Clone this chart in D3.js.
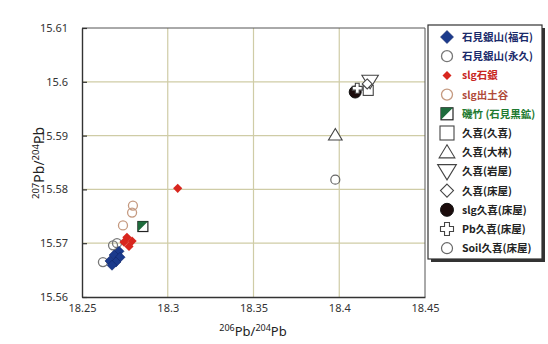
<!DOCTYPE html>
<html><head><meta charset="utf-8">
<script src="https://cdn.jsdelivr.net/npm/d3@7"></script>
<style>
html,body{margin:0;padding:0;background:#fff;}
svg{display:block;}
</style></head>
<body>
<svg id="c" width="548" height="344"></svg>
<script>
// ---- data ----
const xTicks = [18.25, 18.3, 18.35, 18.4, 18.45];
const yTicks = [15.56, 15.57, 15.58, 15.59, 15.6, 15.61];
const seriesNames = ["石見銀山(福石)","石見銀山(永久)","slg石銀","slg出土谷","磯竹 (石見黒鉱)","久喜(久喜)","久喜(大林)","久喜(岩屋)","久喜(床屋)","slg久喜(床屋)","Pb久喜(床屋)","Soil久喜(床屋)"];
const fukuishi = [[18.2716,15.5685],[18.2687,15.5678],[18.2722,15.5674],[18.2663,15.5667],[18.2698,15.5665],[18.2675,15.5659]];
const eikyu = [[18.2622,15.5665],[18.2681,15.5696],[18.2704,15.5700]];
const slgIshigin = [[18.3058,15.5802],[18.2762,15.5711],[18.2792,15.5704],[18.2745,15.5702],[18.2774,15.5694]];
const slgDodani = [[18.2797,15.5770],[18.2792,15.5757],[18.2739,15.5733]];
const isotake = [[18.2855,15.5731]];
const kukiKuki = [[18.4169,15.5984]];
const kukiObayashi = [[18.3977,15.5901]];
const kukiIwaya = [[18.4180,15.6001]];
const kukiTokoya = [[18.4163,15.5996]];
const slgKukiTokoya = [[18.4093,15.5981]];
const pbKukiTokoya = [[18.4105,15.5988]];
const soilKukiTokoya = [[18.3977,15.5818]];

// ---- layout ----
const svg = d3.select("#c");
const L = 82, R = 425, T = 28, B = 297;
const x = d3.scaleLinear().domain([18.25, 18.45]).range([L, R]);
const y = d3.scaleLinear().domain([15.56, 15.61]).range([B, T]);
const gridC = "#cfcca6";

// grid
svg.append("g").selectAll("line").data(xTicks.slice(1, -1)).join("line")
  .attr("x1", d => x(d)).attr("x2", d => x(d)).attr("y1", T).attr("y2", B)
  .attr("stroke", gridC).attr("stroke-width", 1.2);
svg.append("g").selectAll("line").data(yTicks.slice(1, -1)).join("line")
  .attr("y1", d => y(d)).attr("y2", d => y(d)).attr("x1", L).attr("x2", R)
  .attr("stroke", gridC).attr("stroke-width", 1.2);

// frame
svg.append("line").attr("x1", L).attr("x2", R).attr("y1", T).attr("y2", T).attr("stroke", "#555").attr("stroke-width", 1);
svg.append("line").attr("x1", R).attr("x2", R).attr("y1", T).attr("y2", B).attr("stroke", "#555").attr("stroke-width", 1);

const tickFont = "'Noto Sans', 'Open Sans', sans-serif";
const xa = svg.append("g").attr("transform", `translate(0,${B})`)
  .call(d3.axisBottom(x).tickValues(xTicks).tickFormat(d => d3.format("")(+d.toFixed(2))).tickSize(0).tickPadding(7));
const ya = svg.append("g").attr("transform", `translate(${L},0)`)
  .call(d3.axisLeft(y).tickValues(yTicks).tickFormat(d => d3.format("")(+d.toFixed(2))).tickSizeInner(-5).tickSizeOuter(0).tickPadding(14));
[xa, ya].forEach(a => {
  a.select(".domain").attr("stroke", "#333").attr("stroke-width", 1.4);
  a.selectAll(".tick line").attr("stroke", "#333").attr("stroke-width", 1.2);
  a.selectAll("text").attr("font-family", tickFont).attr("font-size", 11).attr("fill", "#333");
});

// axis titles
const xt = svg.append("text").attr("x", 253).attr("y", 336).attr("text-anchor", "middle")
  .attr("font-family", tickFont).attr("font-size", 13).attr("fill", "#222");
xt.append("tspan").attr("font-size", 9).attr("dy", -5).text("206");
xt.append("tspan").attr("dy", 5).text("Pb/");
xt.append("tspan").attr("font-size", 9).attr("dy", -5).text("204");
xt.append("tspan").attr("dy", 5).text("Pb");
const yt = svg.append("text").attr("transform", "translate(44,163) rotate(-90)").attr("text-anchor", "middle")
  .attr("font-family", tickFont).attr("font-size", 14).attr("fill", "#222");
yt.append("tspan").attr("font-size", 9.5).attr("dy", -5).text("207");
yt.append("tspan").attr("dy", 5).text("Pb/");
yt.append("tspan").attr("font-size", 9.5).attr("dy", -5).text("204");
yt.append("tspan").attr("dy", 5).text("Pb");

// symbol drawers
function drawSym(g, type, s) {
  switch (type) {
    case "diamondFill":
      g.append("path").attr("d", `M0,${-s}L${s},0L0,${s}L${-s},0Z`).attr("fill", "#1b3a8c").attr("stroke", "#10266a").attr("stroke-width", 0.6); break;
    case "circleGray":
      g.append("circle").attr("r", s).attr("fill", "none").attr("stroke", "#777").attr("stroke-width", 1.3); break;
    case "diamondRed":
      g.append("path").attr("d", `M0,${-s}L${s},0L0,${s}L${-s},0Z`).attr("fill", "#d8261e"); break;
    case "circleTan":
      g.append("circle").attr("r", s).attr("fill", "none").attr("stroke", "#c59a80").attr("stroke-width", 1.3); break;
    case "halfSquare":
      g.append("rect").attr("x", -s).attr("y", -s).attr("width", 2*s).attr("height", 2*s).attr("fill", "#fff").attr("stroke", "#222").attr("stroke-width", 1.2);
      g.append("path").attr("d", `M${-s},${-s}L${s},${-s}L${-s},${s}Z`).attr("fill", "#1e6b3c"); break;
    case "square":
      g.append("rect").attr("x", -s).attr("y", -s).attr("width", 2*s).attr("height", 2*s).attr("fill", "#fff").attr("stroke", "#444").attr("stroke-width", 1.1); break;
    case "triUp":
      g.append("path").attr("d", `M0,${-s}L${s*1.05},${s*0.75}L${-s*1.05},${s*0.75}Z`).attr("fill", "#fff").attr("stroke", "#444").attr("stroke-width", 1.1); break;
    case "triDown":
      g.append("path").attr("d", `M0,${s}L${s*1.1},${-s*0.8}L${-s*1.1},${-s*0.8}Z`).attr("fill", "#fff").attr("stroke", "#444").attr("stroke-width", 1.1); break;
    case "diamondOpen":
      g.append("path").attr("d", `M0,${-s}L${s},0L0,${s}L${-s},0Z`).attr("fill", "#fff").attr("stroke", "#444").attr("stroke-width", 1.1); break;
    case "circleBlack":
      g.append("circle").attr("r", s).attr("fill", "#1c0c0c").attr("stroke", "#111"); break;
    case "plus": {
      const a = s * 0.38;
      g.append("path").attr("d", `M${-a},${-s}H${a}V${-a}H${s}V${a}H${a}V${s}H${-a}V${a}H${-s}V${-a}H${-a}Z`).attr("fill", "#fff").attr("stroke", "#444").attr("stroke-width", 1.1); break;
    }
    case "circleSoil":
      g.append("circle").attr("r", s).attr("fill", "none").attr("stroke", "#666").attr("stroke-width", 1.2); break;
  }
}

const plotSeries = [
  {data: soilKukiTokoya, type: "circleSoil", s: 4.5},
  {data: kukiObayashi, type: "triUp", s: 6.5},
  {data: kukiKuki, type: "square", s: 5},
  {data: kukiIwaya, type: "triDown", s: 7.5},
  {data: kukiTokoya, type: "diamondOpen", s: 5},
  {data: slgKukiTokoya, type: "circleBlack", s: 6},
  {data: pbKukiTokoya, type: "plus", s: 5},
  {data: slgDodani, type: "circleTan", s: 4.5},
  {data: isotake, type: "halfSquare", s: 5},
  {data: eikyu, type: "circleGray", s: 4.5},
  {data: slgIshigin, type: "diamondRed", s: 4.6},
  {data: fukuishi, type: "diamondFill", s: 5}
];
plotSeries.forEach(ps => {
  ps.data.forEach(d => {
    const g = svg.append("g").attr("transform", `translate(${x(d[0])},${y(d[1])})`);
    drawSym(g, ps.type, ps.s);
  });
});

// legend
const legTypes = ["diamondFill","circleGray","diamondRed","circleTan","halfSquare","square","triUp","triDown","diamondOpen","circleBlack","plus","circleSoil"];
const legSizes = [6.5,5.5,4.5,5.5,6,7,7.5,8.5,6.5,6.5,6.5,5.5];
const legColors = ["#1a2a6a","#1a2a6a","#c8261e","#b04a3a","#1e7a30","#222","#222","#222","#222","#222","#222","#222"];
const lg = svg.append("g");
lg.append("rect").attr("x", 431).attr("y", 28).attr("width", 114).attr("height", 234).attr("fill", "#333");
lg.append("rect").attr("x", 428).attr("y", 25).attr("width", 114).attr("height", 234).attr("fill", "#fff").attr("stroke", "#333").attr("stroke-width", 1.2);
seriesNames.forEach((n, i) => {
  const cy = 37 + i * 19.2;
  const g = lg.append("g").attr("transform", `translate(447,${cy})`);
  drawSym(g, legTypes[i], legSizes[i]);
  lg.append("text").attr("x", 462).attr("y", cy + 4).text(n)
    .attr("font-family", "'Noto Sans CJK JP', sans-serif").attr("font-weight", "bold")
    .attr("font-size", 10.5).attr("fill", legColors[i]);
});
</script>
</body></html>
